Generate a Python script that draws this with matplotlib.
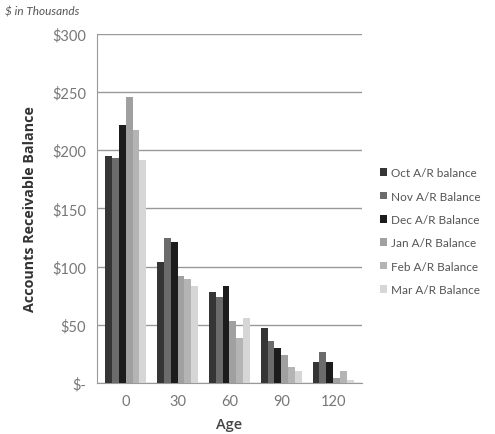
import matplotlib.pyplot as plt
import numpy as np

plt.rcParams['font.family'] = ['Lato', 'DejaVu Sans']

ages = ['0', '30', '60', '90', '120']
series = ['Oct A/R balance', 'Nov A/R Balance', 'Dec A/R Balance',
          'Jan A/R Balance', 'Feb A/R Balance', 'Mar A/R Balance']
oct_bal = [195, 104, 78, 47, 18]
nov_bal = [193, 125, 74, 36, 27]
dec_bal = [222, 121, 83, 30, 18]
jan_bal = [246, 92, 53, 24, 4]
feb_bal = [217, 89, 39, 14, 10]
mar_bal = [192, 83, 56, 10, 3]
values = [oct_bal, nov_bal, dec_bal, jan_bal, feb_bal, mar_bal]
colors = ['#353535', '#6b6b6b', '#1c1c1c', '#a0a0a0', '#b4b4b4', '#d6d6d6']

fig = plt.figure(figsize=(4.95, 4.35), dpi=100)
ax = fig.add_axes([0.196, 0.117, 0.535, 0.803])

x = np.arange(len(ages))
w = 0.8 / len(series)
for i, (name, vals) in enumerate(zip(series, values)):
    ax.bar(x - 0.4 + w * (i + 0.5), vals, width=w, color=colors[i],
           label=name, zorder=3)

ax.set_xlim(-0.55, len(ages) - 0.45)
ax.set_ylim(0, 300)
yt = [0, 50, 100, 150, 200, 250, 300]
ax.set_yticks(yt)
ax.set_yticklabels(['$-'] + ['$%d' % v for v in yt[1:]])
ax.set_xticks(x)
ax.set_xticklabels(ages)
ax.tick_params(axis='both', colors='#777777', labelsize=10.5, length=0, pad=8)
ax.grid(axis='y', color='#999999', linewidth=1, zorder=0)
for s in ['top', 'right']:
    ax.spines[s].set_visible(False)
ax.spines['left'].set_color('#999999')
ax.spines['bottom'].set_color('#999999')

ax.set_ylabel('Accounts Receivable Balance', fontsize=10.3, fontweight='bold',
              color='#333333', labelpad=11, family=['Open Sans', 'DejaVu Sans'])
ax.set_xlabel('Age', fontsize=10.5, fontweight='semibold', color='#444444',
              labelpad=6, family=['Open Sans', 'DejaVu Sans'])

fig.text(0.01, 0.965, '$ in Thousands', fontsize=8.5, style='italic',
         color='#555555')

ax.legend(loc='center left', bbox_to_anchor=(1.03, 0.435), frameon=False,
          fontsize=8.5, handlelength=0.6, handleheight=0.6, handletextpad=0.3,
          labelspacing=1.05, labelcolor='#555555')

fig.savefig('out.png', dpi=100)
